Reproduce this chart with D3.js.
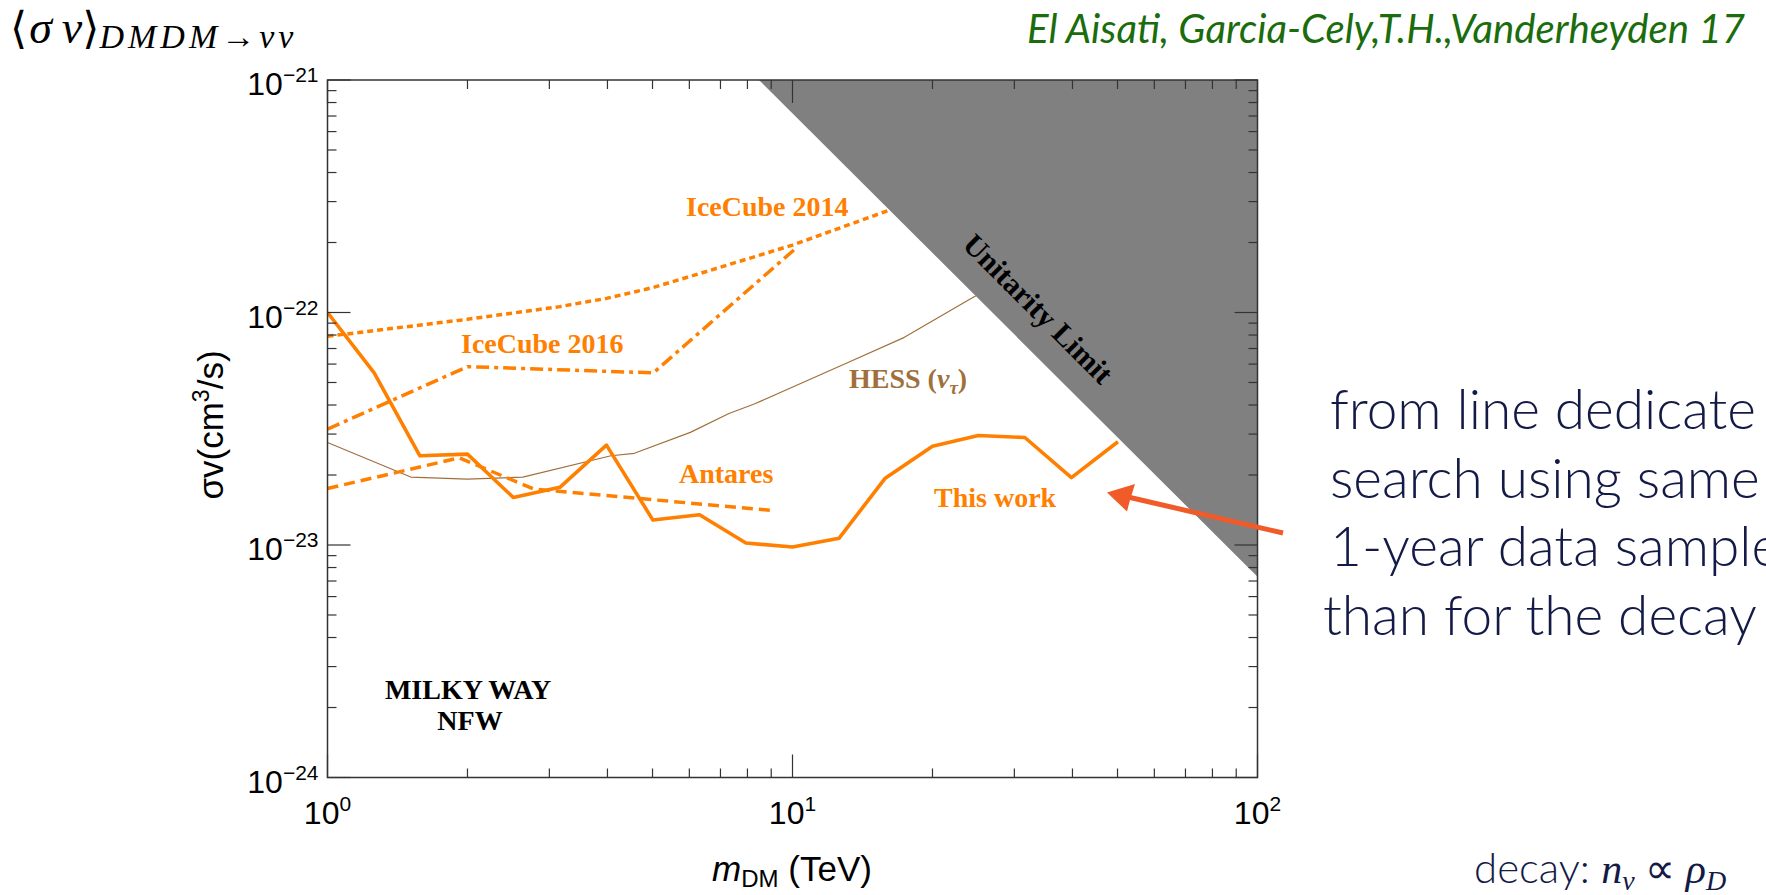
<!DOCTYPE html>
<html>
<head>
<meta charset="utf-8">
<script src="https://cdn.jsdelivr.net/npm/d3@7"></script>
<style>
  body { margin: 0; background: #fff; }
  svg { display: block; }
</style>
</head>
<body>
<div id="chart"></div>
<script>
// limits: m_DM in TeV, sigma v in cm^3/s
const thisWorkM  = [1, 1.26, 1.58, 2, 2.51, 3.16, 3.98, 5.01, 6.31, 7.94, 10, 12.6, 15.8, 20, 25.1, 31.6, 39.8, 50.1];
const thisWorkSv = [1.0e-22, 5.5e-23, 2.42e-23, 2.46e-23, 1.6e-23, 1.77e-23, 2.69e-23, 1.28e-23, 1.35e-23, 1.02e-23, 0.98e-23, 1.07e-23, 1.93e-23, 2.66e-23, 2.96e-23, 2.9e-23, 1.95e-23, 2.78e-23];

const iceCube14M  = [1, 2, 3.16, 3.98, 5.01, 6.31, 10, 16.1];
const iceCube14Sv = [7.9e-23, 9.35e-23, 1.06e-22, 1.15e-22, 1.28e-22, 1.47e-22, 1.95e-22, 2.75e-22];

const iceCube16M  = [1, 2, 5.02, 10.2];
const iceCube16Sv = [3.15e-23, 5.85e-23, 5.5e-23, 1.9e-22];

const antaresM  = [1, 1.92, 2.78, 8.98];
const antaresSv = [1.75e-23, 2.37e-23, 1.74e-23, 1.41e-23];

const hessM  = [1, 1.51, 2.0, 2.63, 4.07, 4.57, 6.03, 7.3, 8.3, 13.2, 17.4, 23.7, 24.8];
const hessSv = [2.76e-23, 1.96e-23, 1.92e-23, 1.96e-23, 2.42e-23, 2.48e-23, 3.05e-23, 3.68e-23, 4.05e-23, 6.11e-23, 7.82e-23, 1.12e-22, 1.18e-22];

// unitarity limit edge (straight in log-log)
const unitarityM  = [8.47, 100];
const unitaritySv = [1e-21, 7.3e-24];

const xTickLabels = [[1, '0'], [10, '1'], [100, '2']];
const yTickLabels = [[1e-21, '\u221221'], [1e-22, '\u221222'], [1e-23, '\u221223'], [1e-24, '\u221224']];

const sideText = ['from line dedicate', 'search using same', '1-year data sample', 'than for the decay'];

const W = 1766, H = 895;
const margin = {top: 80, right: 508.5, bottom: 117.5, left: 327.5};
const width = W - margin.left - margin.right;
const height = H - margin.top - margin.bottom;

const orange = '#ff8000';
const brown = '#a0703c';

const svg = d3.select('#chart').append('svg')
    .attr('width', W)
    .attr('height', H);

const g = svg.append('g')
    .attr('transform', `translate(${margin.left},${margin.top})`);

const x = d3.scaleLog().domain([1, 100]).range([0, width]);
const y = d3.scaleLog().domain([1e-24, 1e-21]).range([height, 0]);

g.append('clipPath').attr('id', 'plot-clip')
    .append('rect').attr('width', width).attr('height', height);

const plot = g.append('g').attr('clip-path', 'url(#plot-clip)');

const line = d3.line()
    .x(d => x(d[0]))
    .y(d => y(d[1]));

const series = [
    {m: hessM, sv: hessSv, color: brown, w: 1.2, dash: null},
    {m: antaresM, sv: antaresSv, color: orange, w: 3.5, dash: '11,6'},
    {m: iceCube16M, sv: iceCube16Sv, color: orange, w: 3.5, dash: '13,5,4,5'},
    {m: iceCube14M, sv: iceCube14Sv, color: orange, w: 3.5, dash: '6,4'},
    {m: thisWorkM, sv: thisWorkSv, color: orange, w: 3.6, dash: null}
];

series.forEach(s => {
    plot.append('path')
        .datum(d3.zip(s.m, s.sv))
        .attr('fill', 'none')
        .attr('stroke', s.color)
        .attr('stroke-width', s.w)
        .attr('stroke-linejoin', 'round')
        .attr('stroke-dasharray', s.dash)
        .attr('d', line);
});

// shaded region above the unitarity limit
const limitPts = d3.zip(unitarityM, unitaritySv);
limitPts.push([x.domain()[1], y.domain()[1]]);
plot.append('path')
    .datum(limitPts)
    .attr('fill', '#808080')
    .attr('d', d3.line().x(d => x(d[0])).y(d => y(d[1])).curve(d3.curveLinearClosed));

// frame + inward ticks on all sides
g.append('rect')
    .attr('width', width).attr('height', height)
    .attr('fill', 'none').attr('stroke', '#333').attr('stroke-width', 1.5);

const isMajor = v => Math.abs(Math.log10(v) - Math.round(Math.log10(v))) < 1e-6;
const tickLen = v => isMajor(v) ? 23 : 9;
const ticks = g.append('g').attr('stroke', '#333').attr('stroke-width', 1.2);

x.ticks().forEach(v => {
    ticks.append('line').attr('x1', x(v)).attr('x2', x(v)).attr('y1', height).attr('y2', height - tickLen(v));
    ticks.append('line').attr('x1', x(v)).attr('x2', x(v)).attr('y1', 0).attr('y2', tickLen(v));
});
y.ticks().forEach(v => {
    ticks.append('line').attr('y1', y(v)).attr('y2', y(v)).attr('x1', 0).attr('x2', tickLen(v));
    ticks.append('line').attr('y1', y(v)).attr('y2', y(v)).attr('x1', width).attr('x2', width - tickLen(v));
});

const tickFont = 'Liberation Sans, Arial, sans-serif';

xTickLabels.forEach(([v, e]) => {
    const t = g.append('text')
        .attr('x', x(v)).attr('y', height + 46)
        .attr('text-anchor', 'middle')
        .style('font', `32px ${tickFont}`);
    t.append('tspan').text('10');
    t.append('tspan').attr('dy', -13).style('font-size', '21px').text(e);
});

yTickLabels.forEach(([v, e]) => {
    const t = g.append('text')
        .attr('x', -9).attr('y', y(v) + 15)
        .attr('text-anchor', 'end')
        .style('font', `32px ${tickFont}`);
    t.append('tspan').text('10');
    t.append('tspan').attr('dy', -13).style('font-size', '21px').text(e);
});

// axis titles
const yTitle = svg.append('text')
    .attr('transform', 'translate(223,425) rotate(-90)')
    .attr('text-anchor', 'middle')
    .style('font', `35px ${tickFont}`);
yTitle.append('tspan').text('\u03c3v(cm');
yTitle.append('tspan').attr('dy', -14).style('font-size', '23px').text('3');
yTitle.append('tspan').attr('dy', 14).text('/s)');

const xTitle = svg.append('text')
    .attr('x', 792).attr('y', 881)
    .attr('text-anchor', 'middle')
    .style('font', `35px ${tickFont}`);
xTitle.append('tspan').style('font-style', 'italic').text('m');
xTitle.append('tspan').attr('dy', 6).style('font-size', '24px').text('DM');
xTitle.append('tspan').attr('dy', -6).text(' (TeV)');

// curve labels
const serif = 'Liberation Serif, Times New Roman, serif';
const label = (txt, px, py, color) => svg.append('text')
    .attr('x', px).attr('y', py)
    .attr('fill', color)
    .style('font', `bold 28px ${serif}`)
    .text(txt);

label('IceCube 2014', 686, 216, orange);
label('IceCube 2016', 461, 353, orange);
label('Antares', 679, 483, orange);
label('This work', 934, 507, orange);

const hessLabel = label('HESS (', 849, 388, brown);
hessLabel.append('tspan').style('font-style', 'italic').text('\u03bd');
hessLabel.append('tspan').attr('dy', 6).style('font-style', 'italic').style('font-size', '19px').text('\u03c4');
hessLabel.append('tspan').attr('dy', -6).text(')');

svg.append('text')
    .attr('x', 468).attr('y', 699)
    .attr('text-anchor', 'middle')
    .style('font', `bold 28px ${serif}`)
    .text('MILKY WAY');
svg.append('text')
    .attr('x', 470).attr('y', 730)
    .attr('text-anchor', 'middle')
    .style('font', `bold 28px ${serif}`)
    .text('NFW');

svg.append('text')
    .attr('transform', 'translate(1031,316) rotate(45)')
    .attr('text-anchor', 'middle')
    .style('font', `bold 30px ${serif}`)
    .text('Unitarity Limit');

// arrow pointing at "This work"
svg.append('line')
    .attr('x1', 1283).attr('y1', 533)
    .attr('x2', 1128).attr('y2', 497)
    .attr('stroke', '#f15a29').attr('stroke-width', 5);
svg.append('path')
    .attr('d', 'M1107,492.5 L1135,484 L1130,500 L1127,511.5 Z')
    .attr('fill', '#f15a29');

// top-left formula
const formula = svg.append('text')
    .attr('x', 10).attr('y', 43)
    .style('font', `46px ${serif}`);
formula.append('tspan').style('font-family', 'DejaVu Serif').style('font-size', '44px').text('\u27e8');
formula.append('tspan').style('font-style', 'italic').attr('dx', 2).text('\u03c3');
formula.append('tspan').style('font-style', 'italic').attr('dx', 10).text('v');
formula.append('tspan').style('font-family', 'DejaVu Serif').style('font-size', '44px').text('\u27e9');
formula.append('tspan').attr('dy', 5)
    .style('font-style', 'italic').style('font-size', '34px').style('letter-spacing', '4px')
    .text('DMDM\u2192\u03bd\u03bd');

// citation
svg.append('text')
    .attr('x', 1027).attr('y', 43)
    .attr('fill', '#1a6c0c')
    .attr('textLength', 718)
    .attr('lengthAdjust', 'spacingAndGlyphs')
    .style('font', 'italic 40px Lato, "Open Sans", sans-serif')
    .text('El Aisati, Garcia-Cely,T.H.,Vanderheyden  17');

// slide text on the right
svg.selectAll('.side')
    .data(sideText)
    .enter().append('text')
    .attr('class', 'side')
    .attr('x', (d, i) => i === 3 ? 1323 : 1330)
    .attr('y', (d, i) => 429 + i * 68.7)
    .attr('fill', '#141a46')
    .style('font', '300 55px Lato, "Open Sans", sans-serif')
    .text(d => d);

const decay = svg.append('text')
    .attr('x', 1474).attr('y', 883)
    .attr('fill', '#141a46')
    .style('font', '300 42px Lato, "Open Sans", sans-serif');
decay.append('tspan').text('decay:  ');
decay.append('tspan').style('font-family', 'Liberation Serif').style('font-style', 'italic').text('n');
decay.append('tspan').attr('dy', 7).style('font-family', 'Liberation Serif').style('font-style', 'italic').style('font-size', '28px').text('\u03bd');
decay.append('tspan').attr('dy', -7).style('font-family', 'Liberation Serif').text(' \u221d ');
decay.append('tspan').style('font-family', 'Liberation Serif').style('font-style', 'italic').text('\u03c1');
decay.append('tspan').attr('dy', 7).style('font-family', 'Liberation Serif').style('font-style', 'italic').style('font-size', '28px').text('D');
</script>
</body>
</html>
